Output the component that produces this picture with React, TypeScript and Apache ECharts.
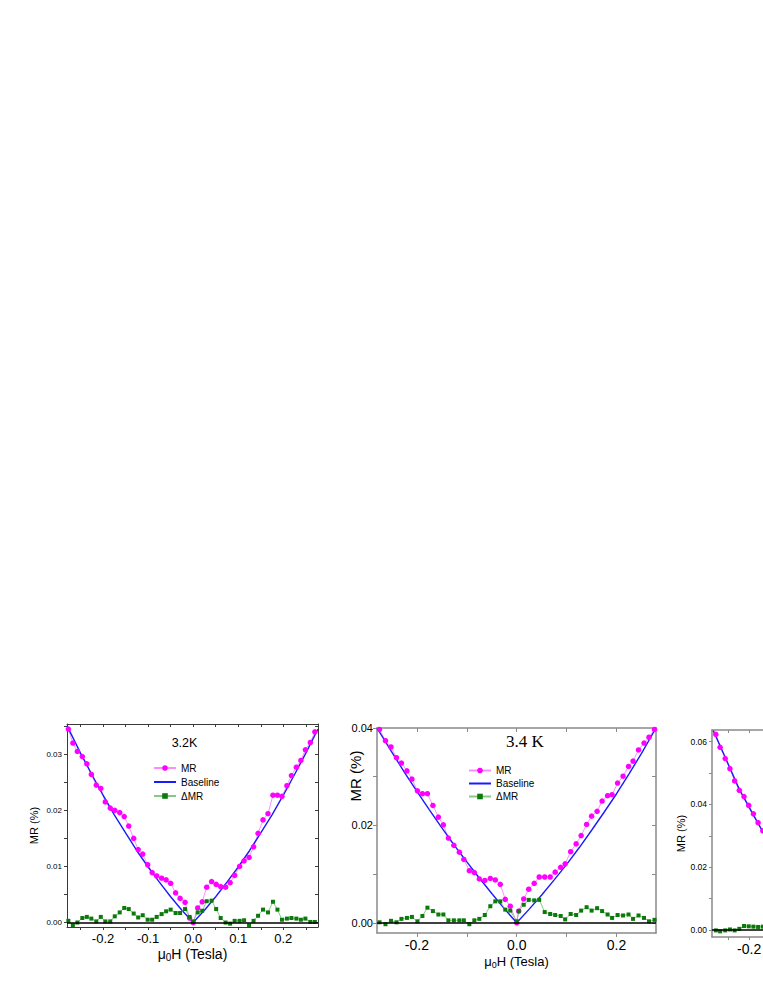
import React, { useEffect, useRef } from 'react';
import * as echarts from 'echarts';

// ---------- Panel 1 (3.2 K) ----------
const p1Field = [-0.277, -0.267, -0.257, -0.246, -0.236, -0.226, -0.215, -0.205, -0.195, -0.184,
  -0.174, -0.163, -0.153, -0.143, -0.132, -0.122, -0.112, -0.101, -0.091, -0.081,
  -0.070, -0.060, -0.050, -0.039, -0.029, -0.018, -0.008, 0.000, 0.010, 0.020,
  0.030, 0.041, 0.051, 0.061, 0.072, 0.082, 0.092, 0.103, 0.113, 0.124,
  0.134, 0.144, 0.155, 0.166, 0.177, 0.187, 0.197, 0.208, 0.218, 0.229,
  0.239, 0.249, 0.260, 0.270];
const p1MR = [0.0345, 0.0320, 0.0305, 0.0296, 0.0283, 0.0264, 0.0245, 0.0239, 0.0215, 0.0204,
  0.0200, 0.0196, 0.0189, 0.0172, 0.0150, 0.0130, 0.0122, 0.0103, 0.0089, 0.0083,
  0.0079, 0.0076, 0.0070, 0.0053, 0.0043, 0.0036, 0.0008, 0.0000, 0.0026, 0.0037,
  0.0063, 0.0073, 0.0068, 0.0064, 0.0063, 0.0071, 0.0084, 0.0100, 0.0110, 0.0116,
  0.0135, 0.0159, 0.0183, 0.0194, 0.0227, 0.0227, 0.0225, 0.0244, 0.0262, 0.0277,
  0.0289, 0.0308, 0.0321, 0.0340];
const p1dMR = [0.0003, -0.0005, 0.0000, 0.0008, 0.0010, 0.0007, 0.0002, 0.0010, 0.0002, 0.0002,
  0.0011, 0.0018, 0.0026, 0.0024, 0.0016, 0.0009, 0.0013, 0.0005, 0.0005, 0.0010,
  0.0015, 0.0020, 0.0023, 0.0017, 0.0017, 0.0024, 0.0010, 0.0002, 0.0018, 0.0021,
  0.0038, 0.0039, 0.0024, 0.0008, 0.0000, -0.0002, 0.0003, 0.0003, 0.0004, -0.0005,
  0.0003, 0.0012, 0.0023, 0.0018, 0.0037, 0.0023, 0.0005, 0.0007, 0.0008, 0.0007,
  0.0005, 0.0007, 0.0001, 0.0001];
const p1BaseField = [-0.280, -0.250, -0.225, -0.200, -0.175, -0.150, -0.125, -0.100, -0.075, -0.050, -0.025, 0,
  0.025, 0.050, 0.075, 0.100, 0.125, 0.150, 0.175, 0.200, 0.225, 0.250, 0.277];
const p1Base = [0.0351, 0.0302, 0.0264, 0.0227, 0.0192, 0.0160, 0.0128, 0.0099, 0.0072, 0.0046, 0.0022, 0,
  0.0022, 0.0046, 0.0072, 0.0099, 0.0128, 0.0160, 0.0192, 0.0227, 0.0264, 0.0302, 0.0345];
const p1XTicks = [-0.25, -0.2, -0.15, -0.1, -0.05, 0, 0.05, 0.1, 0.15, 0.2, 0.25];
const p1XLabels = [-0.2, -0.1, 0, 0.1, 0.2];
const p1YTicks = [0, 0.005, 0.01, 0.015, 0.02, 0.025, 0.03, 0.035];
const p1YLabels = [0, 0.01, 0.02, 0.03];

// ---------- Panel 2 (3.4 K) ----------
const p2Field = [-0.275, -0.263, -0.252, -0.241, -0.231, -0.220, -0.210, -0.199, -0.189, -0.179,
  -0.168, -0.157, -0.147, -0.137, -0.126, -0.115, -0.106, -0.095, -0.085, -0.075,
  -0.064, -0.053, -0.043, -0.033, -0.023, -0.013, 0.000, 0.004, 0.014, 0.024,
  0.035, 0.045, 0.056, 0.067, 0.077, 0.088, 0.097, 0.108, 0.119, 0.129,
  0.140, 0.150, 0.161, 0.171, 0.182, 0.191, 0.202, 0.213, 0.224, 0.233,
  0.244, 0.255, 0.265, 0.276];
const p2MR = [0.0397, 0.0374, 0.0361, 0.0339, 0.0328, 0.0312, 0.0295, 0.0271, 0.0265, 0.0265,
  0.0241, 0.0217, 0.0201, 0.0174, 0.0159, 0.0145, 0.0130, 0.0107, 0.0103, 0.0090,
  0.0087, 0.0091, 0.0088, 0.0079, 0.0048, 0.0034, 0.0000, 0.0024, 0.0049, 0.0069,
  0.0081, 0.0094, 0.0094, 0.0094, 0.0104, 0.0114, 0.0121, 0.0146, 0.0162, 0.0179,
  0.0202, 0.0219, 0.0229, 0.0250, 0.0261, 0.0263, 0.0287, 0.0301, 0.0321, 0.0332,
  0.0355, 0.0369, 0.0381, 0.0397];
const p2dMR = [0.0001, -0.0003, 0.0004, 0.0001, 0.0008, 0.0010, 0.0012, 0.0003, 0.0014, 0.0031,
  0.0024, 0.0017, 0.0017, 0.0005, 0.0005, 0.0005, 0.0005, -0.0003, 0.0005, 0.0008,
  0.0016, 0.0034, 0.0044, 0.0044, 0.0027, 0.0025, 0.0003, 0.0024, 0.0037, 0.0047,
  0.0046, 0.0047, 0.0022, 0.0018, 0.0016, 0.0014, 0.0007, 0.0018, 0.0016, 0.0025,
  0.0032, 0.0025, 0.0030, 0.0024, 0.0017, 0.0010, 0.0016, 0.0015, 0.0017, 0.0008,
  0.0015, 0.0010, 0.0003, 0.0006];
const p2BaseField = [-0.280, -0.250, -0.225, -0.200, -0.175, -0.150, -0.125, -0.100, -0.075, -0.050, -0.025, 0,
  0.025, 0.050, 0.075, 0.100, 0.125, 0.150, 0.175, 0.200, 0.225, 0.250, 0.279];
const p2Base = [0.0400, 0.0350, 0.0309, 0.0270, 0.0232, 0.0195, 0.0159, 0.0125, 0.0092, 0.0060, 0.0029, 0,
  0.0028, 0.0057, 0.0088, 0.0120, 0.0154, 0.0190, 0.0227, 0.0265, 0.0306, 0.0348, 0.0400];
const p2XTicks = [-0.2, -0.1, 0, 0.1, 0.2];
const p2XLabels = [-0.2, 0, 0.2];
const p2YTicks = [0, 0.01, 0.02, 0.03, 0.04];
const p2YLabels = [0, 0.02, 0.04];

// ---------- Panel 3 (cut off at the right edge of the picture) ----------
const p3Field = [-0.278, -0.268, -0.256, -0.245, -0.234, -0.223, -0.212, -0.201, -0.190, -0.179, -0.168];
const p3MR = [0.0623, 0.0582, 0.0546, 0.0514, 0.0475, 0.0445, 0.0425, 0.0397, 0.0370, 0.0342, 0.0316];
const p3dMR = [-0.0001, -0.0004, -0.0001, 0.0002, -0.0001, 0.0004, 0.0013, 0.0012, 0.0011, 0.0010, 0.0011];
const p3BaseField = [-0.284, -0.256, -0.223, -0.190, -0.168, -0.160];
const p3Base = [0.0635, 0.0550, 0.0448, 0.0366, 0.0313, 0.0296];
const p3XTicks = [-0.25, -0.2, -0.15, -0.1, -0.05, 0, 0.05, 0.1, 0.15, 0.2, 0.25];
const p3XLabels = [-0.2];
const p3YTicks = [0, 0.01, 0.02, 0.03, 0.04, 0.05, 0.06];
const p3YLabels = [0, 0.02, 0.04, 0.06];

const legendNames = ['MR', 'Baseline', 'ΔMR'];

const SANS = '"Liberation Sans", Arial, Helvetica, sans-serif';
const SERIF = '"Liberation Serif", "Times New Roman", serif';

const pairs = (xs: number[], ys: number[]) => xs.map((x, i) => [x, ys[i]]);

interface Style {
  color: string;
  width: number;
  tickLen: number;
  xFs: number;
  yFs: number;
  xMargin: number;
  yMargin: number;
  xName: string;
  nameFs: number;
  nameGap: number;
  yName: string;
  yNameFs: number;
  yNameGap: number;
}

function xAxes(grid: number, min: number, max: number, ticks: number[], labels: number[], s: Style) {
  const line = { show: true, onZero: false, lineStyle: { color: s.color, width: s.width } };
  const sub = Math.round(s.nameFs * 0.68);
  return [
    {
      type: 'value', gridIndex: grid, position: 'bottom', min, max,
      axisLine: line,
      axisTick: { show: true, inside: false, length: s.tickLen, customValues: ticks, lineStyle: { color: s.color, width: 1 } },
      axisLabel: {
        show: true, customValues: labels, formatter: (v: number) => v.toFixed(1),
        fontSize: s.xFs, fontFamily: SANS, color: '#000', margin: s.xMargin,
      },
      splitLine: { show: false },
      minorTick: { show: false },
      name: s.xName,
      nameLocation: 'middle',
      nameGap: s.nameGap,
      nameMoveOverlap: false,
      nameTextStyle: {
        rich: {
          n: { fontSize: s.nameFs, fontFamily: SANS, color: '#000', lineHeight: s.nameFs + 2 },
          s: { fontSize: sub, fontFamily: SANS, color: '#000', lineHeight: sub, padding: [s.nameFs + 2 - sub, 0, 0, 0] },
        },
      },
    },
    {
      type: 'value', gridIndex: grid, position: 'top', min, max,
      axisLine: line,
      axisTick: { show: true, inside: true, length: s.tickLen, customValues: ticks, lineStyle: { color: s.color, width: 1 } },
      axisLabel: { show: false },
      splitLine: { show: false },
      minorTick: { show: false },
    },
  ];
}

function yAxes(grid: number, min: number, max: number, ticks: number[], labels: number[], s: Style) {
  const line = { show: true, onZero: false, lineStyle: { color: s.color, width: s.width } };
  return [
    {
      type: 'value', gridIndex: grid, position: 'left', min, max,
      axisLine: line,
      axisTick: { show: true, inside: false, length: s.tickLen, customValues: ticks, lineStyle: { color: s.color, width: 1 } },
      axisLabel: {
        show: true, customValues: labels, formatter: (v: number) => v.toFixed(2),
        fontSize: s.yFs, fontFamily: SANS, color: '#000', margin: s.yMargin,
      },
      splitLine: { show: false },
      minorTick: { show: false },
      name: s.yName,
      nameLocation: 'middle',
      nameGap: s.yNameGap,
      nameMoveOverlap: false,
      nameTextStyle: { fontSize: s.yNameFs, fontFamily: SANS, color: '#000' },
    },
    {
      type: 'value', gridIndex: grid, position: 'right', min, max,
      axisLine: line,
      axisTick: { show: true, inside: true, length: s.tickLen, customValues: ticks, lineStyle: { color: s.color, width: 1 } },
      axisLabel: { show: false },
      splitLine: { show: false },
      minorTick: { show: false },
    },
  ];
}

function panelSeries(axisIdx: number, field: number[], mr: number[], baseField: number[], base: number[], dmr: number[], mrSize: number) {
  return [
    {
      name: 'MR', type: 'line', xAxisIndex: axisIdx, yAxisIndex: axisIdx,
      data: pairs(field, mr),
      symbol: 'circle', symbolSize: mrSize, showSymbol: true,
      itemStyle: { color: '#ff00ff' },
      lineStyle: { color: '#ff8cff', width: 1 },
      emphasis: { disabled: true },
    },
    {
      name: 'Baseline', type: 'line', xAxisIndex: axisIdx, yAxisIndex: axisIdx,
      data: pairs(baseField, base),
      symbol: 'none',
      itemStyle: { color: '#1a1aff' },
      lineStyle: { color: '#1a1aff', width: 1.4 },
      emphasis: { disabled: true },
    },
    {
      name: 'ΔMR', type: 'line', xAxisIndex: axisIdx, yAxisIndex: axisIdx,
      data: pairs(field, dmr),
      symbol: 'rect', symbolSize: 4, showSymbol: true,
      itemStyle: { color: '#0b7a0b' },
      lineStyle: { color: '#86c986', width: 1 },
      emphasis: { disabled: true },
      markLine: {
        silent: true, symbol: ['none', 'none'], label: { show: false },
        lineStyle: { color: '#000', width: 1.5, type: 'solid' },
        emphasis: { disabled: true },
        data: [{ yAxis: 0 }],
      },
    },
  ];
}

const XNAME = '{n|μ}{s|0}{n|H (Tesla)}';
const s1: Style = { color: '#3a3a3a', width: 1, tickLen: 3, xFs: 13, yFs: 8, xMargin: 5, yMargin: 5, xName: XNAME, nameFs: 14, nameGap: 19, yName: 'MR (%)', yNameFs: 11, yNameGap: 28 };
const s2: Style = { color: '#8a8a8a', width: 1.5, tickLen: 4, xFs: 14, yFs: 11, xMargin: 5, yMargin: 4, xName: XNAME, nameFs: 13, nameGap: 21, yName: '', yNameFs: 15, yNameGap: 30 };
const s3: Style = { color: '#8a8a8a', width: 1.5, tickLen: 3, xFs: 14, yFs: 8.5, xMargin: 5, yMargin: 5, xName: '', nameFs: 13, nameGap: 20, yName: 'MR (%)', yNameFs: 11, yNameGap: 26 };

const legendData = legendNames.map((n) => (n === 'Baseline' ? { name: n, itemStyle: { opacity: 0 } } : { name: n }));

const legendBase = {
  orient: 'vertical', itemWidth: 22, itemHeight: 7, padding: 0,
  textStyle: { fontSize: 10, lineHeight: 10, color: '#000', fontFamily: SANS },
  data: legendData, selectedMode: false,
};

const option = {
  animation: false,
  backgroundColor: '#ffffff',
  grid: [
    { left: 67, top: 724, width: 251, height: 203, outerBoundsMode: 'none' },
    { left: 377, top: 728, width: 279, height: 205, outerBoundsMode: 'none' },
    { left: 712, top: 730, width: 245, height: 207, outerBoundsMode: 'none' },
  ],
  xAxis: [
    ...xAxes(0, -0.28, 0.277, p1XTicks, p1XLabels, s1),
    ...xAxes(1, -0.28, 0.279, p2XTicks, p2XLabels, s2),
    ...xAxes(2, -0.287, 0.287, p3XTicks, p3XLabels, s3),
  ],
  yAxis: [
    ...yAxes(0, -0.0008, 0.0354, p1YTicks, p1YLabels, s1),
    ...yAxes(1, -0.0021, 0.04, p2YTicks, p2YLabels, s2),
    ...yAxes(2, -0.0022, 0.0637, p3YTicks, p3YLabels, s3),
  ],
  legend: [
    { ...legendBase, left: 153, top: 763, itemGap: 4 },
    { ...legendBase, left: 468, top: 765.5, itemGap: 3 },
  ],
  graphic: [
    { type: 'text', x: 184.5, y: 743, style: { text: '3.2K', font: `12.5px ${SANS}`, fill: '#000', textAlign: 'center', textVerticalAlign: 'middle' } },
    { type: 'text', x: 525, y: 741, style: { text: '3.4 K', font: `17px ${SERIF}`, fill: '#000', textAlign: 'center', textVerticalAlign: 'middle' } },
    { type: 'text', x: 355, y: 776, rotation: Math.PI / 2, style: { text: 'MR (%)', font: `15px ${SANS}`, fill: '#000', textAlign: 'center', textVerticalAlign: 'middle' } },
  ],
  series: [
    ...panelSeries(0, p1Field, p1MR, p1BaseField, p1Base, p1dMR, 5.5),
    ...panelSeries(2, p2Field, p2MR, p2BaseField, p2Base, p2dMR, 5.5),
    ...panelSeries(4, p3Field, p3MR, p3BaseField, p3Base, p3dMR, 5.5),
  ],
};

export default function App() {
  const ref = useRef<HTMLDivElement>(null);
  useEffect(() => {
    if (!ref.current) return;
    const chart = echarts.init(ref.current, undefined, { renderer: 'svg' });
    chart.setOption(option as any);
    return () => chart.dispose();
  }, []);
  return (
    <div
      ref={ref}
      style={{ position: 'fixed', left: 0, top: 0, width: 763, height: 987, background: '#fff', overflow: 'hidden' }}
    />
  );
}
